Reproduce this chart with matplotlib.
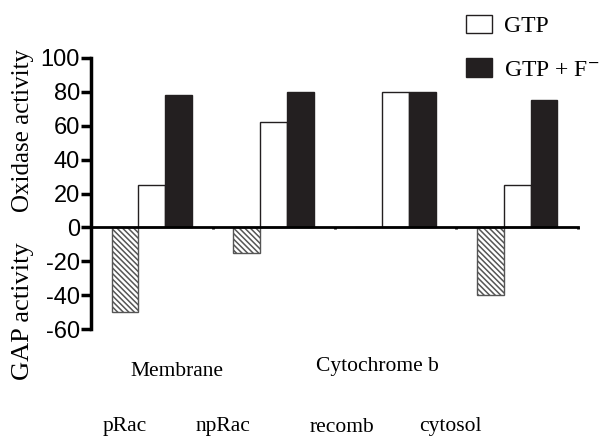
import matplotlib.pyplot as plt
import numpy as np

# values
groups = ['pRac', 'npRac', 'recomb', 'cytosol']
gap = [-50, -15, 0, -40]          # hatched bars (GAP activity)
gtp = [25, 62, 80, 25]            # white bars
gtp_f = [78, 80, 80, 75]          # black bars
yticks = [-60, -40, -20, 0, 20, 40, 60, 80, 100]

plt.rcParams['mathtext.fontset'] = 'stix'
plt.rcParams['hatch.linewidth'] = 1.1
plt.rcParams['hatch.color'] = '#1e1e1e'
serif = 'Liberation Serif'

fig = plt.figure(figsize=(6.07, 4.38), dpi=100)
ax = fig.add_axes([91/607, 1 - 329/438, 487/607, 271/438])

x = np.arange(len(groups))
w = 0.22
ax.bar(x - w, gap, w, color='white', edgecolor='#555555', hatch='\\' * 6, linewidth=1)
b1 = ax.bar(x, gtp, w, color='white', edgecolor='#231f20', linewidth=1, label='GTP')
b2 = ax.bar(x + w, gtp_f, w, color='#231f20', edgecolor='#231f20', linewidth=1,
            label='GTP + F$^{-}$')

ax.set_xlim(-0.5, len(groups) - 0.5)
ax.set_ylim(-60, 100)
ax.set_yticks(yticks)
ax.set_yticklabels([str(v) for v in yticks], family='Liberation Sans', fontsize=17)
ax.set_xticks(x + 0.5)
ax.set_xticklabels([])
ax.tick_params(axis='x', length=1.5, width=2, direction='out')
ax.tick_params(axis='y', length=7, width=2.5, pad=1)

for s in ['top', 'right']:
    ax.spines[s].set_visible(False)
ax.spines['left'].set_linewidth(2.5)
ax.spines['bottom'].set_position(('data', 0))
ax.spines['bottom'].set_linewidth(2)

# axis labels
fig.text(23/607, 1 - 131/438, 'Oxidase activity', rotation=90, ha='center', va='center',
         family=serif, fontsize=18)
fig.text(23/607, 1 - 311/438, 'GAP activity', rotation=90, ha='center', va='center',
         family=serif, fontsize=19)

# labels under the chart
fig.text(177/607, 1 - 371/438, 'Membrane', ha='center', va='center', family=serif, fontsize=15.5)
fig.text(377/607, 1 - 366/438, 'Cytochrome b', ha='center', va='center', family=serif, fontsize=15.5)
for name, px in zip(groups, [125, 223, 342, 450]):
    fig.text(px/607, 1 - 427/438, name, ha='center', va='center', family=serif, fontsize=15.5)

fig.legend(handles=[b1, b2], loc='upper left', bbox_to_anchor=(466/607, 1 - 15/438),
           frameon=False, prop={'family': serif, 'size': 17},
           handlelength=1.1, handleheight=0.8, labelspacing=0.9, handletextpad=0.5,
           borderaxespad=0, borderpad=0)

fig.savefig('out.png', dpi=100)
